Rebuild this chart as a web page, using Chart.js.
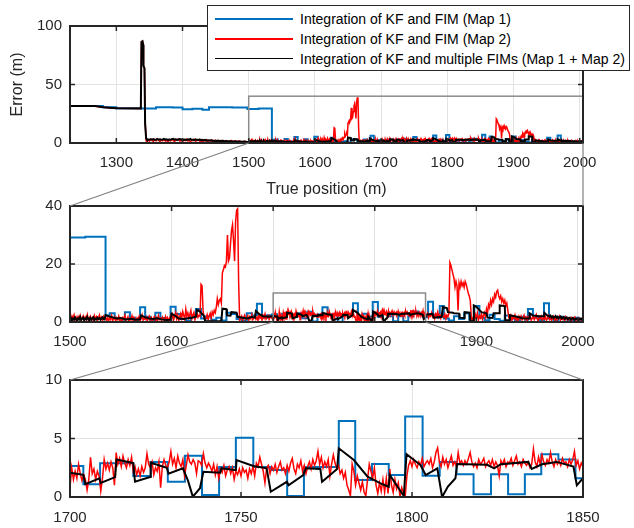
<!DOCTYPE html>
<html>
<head>
<meta charset="utf-8">
<script src="https://cdn.jsdelivr.net/npm/chart.js@4.4.1/dist/chart.umd.min.js"></script>
<style>
  body { margin: 0; background: #fff; }
  #wrap { position: relative; width: 634px; height: 528px; font-family: "Liberation Sans", Arial, sans-serif; }
  #wrap canvas { position: absolute; left: 0; }
  #legend { position: absolute; left: 207px; top: 5px; width: 421px; height: 64px; border: 1px solid #262626; background: #fff; }
  .row { position: absolute; left: 0; width: 100%; height: 0; font-size: 14px; color: #000; }
  .row .ln { position: absolute; left: 7px; width: 78px; top: -1px; border-top: 2px solid; }
  .row .tx { position: absolute; left: 92px; top: -9px; white-space: nowrap; line-height: 18px; }
</style>
</head>
<body>
<div id="wrap">
  <canvas id="c1" width="634" height="200" style="top:0px"></canvas>
  <canvas id="c2" width="634" height="160" style="top:200px"></canvas>
  <canvas id="c3" width="634" height="168" style="top:360px"></canvas>
  <canvas id="links" width="634" height="528" style="top:0px;pointer-events:none"></canvas>
  <div id="legend">
    <div class="row" style="top:13px"><span class="ln" style="border-color:#0072BD"></span><span class="tx">Integration of KF and FIM (Map 1)</span></div>
    <div class="row" style="top:33px"><span class="ln" style="border-color:#FF0000"></span><span class="tx">Integration of KF and FIM (Map 2)</span></div>
    <div class="row" style="top:53px"><span class="ln" style="border-color:#000000;border-top-width:1.5px"></span><span class="tx">Integration of KF and multiple FIMs (Map 1 + Map 2)</span></div>
  </div>
</div>
<script>
// axis limits / ticks of the three panels
var xLim1 = [1230, 2005], yLim1 = [0, 100];
var xTicks1 = [1300, 1400, 1500, 1600, 1700, 1800, 1900, 2000], yTicks1 = [0, 50, 100];
var xLim2 = [1500, 2005], yLim2 = [0, 40];
var xTicks2 = [1500, 1600, 1700, 1800, 1900, 2000], yTicks2 = [0, 20, 40];
var xLim3 = [1700, 1850], yLim3 = [0, 10];
var xTicks3 = [1700, 1750, 1800, 1850], yTicks3 = [0, 5, 10];

// Map 1 (blue): step breakpoints [position, error] - value holds until next point
var blueSteps = [
  [1230,31.7],[1268,31.6],[1280,30.5],[1300,29.7],[1338,29.4],[1360,30.5],[1385,30.3],[1400,28.9],
  [1415,29.2],[1430,28.5],[1440,30.6],[1475,30.3],[1498,29.1],[1515,29.4],
  [1535,2.2],[1539,3.0],[1544,1.2],[1549,0.8],[1554,3.4],[1559,1.5],[1564,0.6],[1569,5.1],[1574,1.8],
  [1579,0.5],[1584,3.2],[1589,1.4],[1594,0.7],[1599,5.3],[1604,2.8],[1609,1.0],[1614,0.4],[1619,2.0],
  [1624,4.5],[1629,1.2],[1634,2.0],[1639,0.8],[1644,1.5],[1649,0.5],[1654,3.2],[1659,2.8],[1664,1.0],
  [1669,0.6],[1674,3.0],[1679,2.2],[1684,6.3],[1689,1.5],[1694,2.3],[1699,2.65],
  [1703.9,1.08],[1708.8,2.88],[1718.5,1.8],[1723.6,3.0],[1728.6,1.3],[1733.6,3.53],[1738.6,0.17],
  [1743.6,2.56],[1748.5,5.07],[1753.6,2.56],[1758.5,2.3],[1763.5,0.09],[1768.4,2.56],[1778.6,6.5],
  [1783.4,1.45],[1788.3,2.82],[1793.2,1.88],[1798,6.87],[1803.1,1.82],[1808.1,3.0],[1813,1.94],
  [1818,0.23],[1823.1,1.94],[1828.1,0.23],[1833,1.94],[1837.8,3.65],[1842.8,3.2],[1847.8,1.6],
  [1852.5,7.0],[1857.4,2.5],[1862,1.5],[1864,5.5],[1868,1.2],[1873,0.5],[1878,2.0],[1883,1.0],
  [1888,3.0],[1893,0.8],[1898,5.5],[1903,1.5],[1908,0.6],[1913,2.5],[1918,1.0],[1923,0.4],[1928,2.2],
  [1933,1.2],[1938,0.5],[1943,1.8],[1948,0.8],[1950.8,4.5],[1955.7,1.5],[1961,0.7],[1966.6,6.5],
  [1971.5,1.2],[1976,0.6],[1981,1.8],[1986,0.9],[1991,0.4],[1996,1.5],[2001,0.3],[2005,0.3]
];

// Map 2 (red)
var redHead = [[1230,31.5],[1268,31.5],[1280,30.5],[1300,29.7],[1337,29.4],[1338,86],[1339.5,87],
  [1340.5,84],[1341,66],[1342.5,64],[1343.5,20],[1345,2],[1346,0.5]];
var redA = [ // 1346..1498, every 2 m
  0.5,2.8,1.6,3.2,2.1,1.4,2.9,1.8,3.4,2.2, 1.2,2.6,1.9,3.1,1.5,2.4,0.9,2.7,1.8,3.3,
  2.0,1.3,2.8,2.2,3.5,1.6,2.5,1.1,2.9,2.0, 3.2,1.7,2.4,1.0,2.6,1.9,3.0,1.4,2.3,2.8,
  1.5,2.1,0.8,2.5,1.7,2.9,1.2,2.2,1.6,2.7, 1.0,1.9,2.4,1.3,2.0,0.7,1.8,2.3,1.1,1.6,
  2.1,0.9,1.7,1.3,2.2,0.8,1.5,1.9,0.6,1.4, 1.8,0.9,1.3,0.7,1.6,1.1,0.8];
var redB = [ // 1500..1699, every 1 m
  1.5,0.4,2.0,1.1,2.4,0.7,1.6,0.3,1.9,1.2, 2.3,0.8,1.4,2.1,0.5,1.7,1.0,2.5,0.6,1.3,
  2.0,0.9,1.5,0.4,2.2,1.1,1.8,0.6,1.4,2.4, 0.8,1.6,0.5,1.9,1.2,
  1.8,0.6,1.3,0.2,1.6,0.9,2.2,0.4,1.1,1.7, 0.3,1.4,0.8,2.0,0.5,1.2,0.1,1.5,0.9,2.3,
  0.6,1.0,1.8,0.3,1.3,0.7,2.1,0.4,1.6,1.0, 0.2,1.4,0.8,1.9,0.5,1.1,2.4,0.6,1.3,0.9,
  1.7,0.3,1.2,2.0,0.7,1.5,0.4,1.0,1.8,0.6, 1.4,0.2,2.2,0.9,1.3,0.5,1.7,1.1,0.4,1.9,
  0.8,1.5,0.3,1.2,2.1,
  1.4,2.6,0.7,1.9,3.2,1.1,2.4,0.6,1.8,2.9, 1.3,3.6,2.2,0.9,4.4,2.0,3.1,1.5,2.7,4.0,
  1.2,2.5,3.3,0.8,2.1,3.0,1.6,2.3,
  2,13,12.5,4,1.5,1.0,1.2,2.5,0.8,2.0, 3.0,1.5,3.5,2.5,4.0,3.2,5.0,8.0,6.0,7.5,
  8.0,6.5,17,18,19.5,19,21,30,21,22, 27,31.5,33.5,28,21,34.5,38.5,39,14,0.5,
  1.2,2.0,0.5,1.6,2.4,0.9,1.3,2.1,0.6,1.8, 1.1,2.6,0.8,1.5,2.2,1.0,1.7,0.4,2.5,1.3,
  1.9,0.7,2.3,1.4,2.8,1.0,1.6,2.2,0.9,2.0, 1.5,1.2];
var redC = [ // 1700..1850, every 0.5 m
  0.8,2.5,1.5,2.2,1.6,2.8,2.0,1.4,1.9,1.5, 0.6,1.5,3.4,2.0,2.4,1.5,2.2,1.8,0.5,1.6,
  3.2,2.4,2.9,2.3,3.0,2.5,1.0,3.8,2.8,3.3, 2.6,3.5,2.9,2.5,3.2,2.7,3.4,2.2,2.6,1.9,
  2.4,1.8,2.6,2.1,2.5,3.7,2.8,2.5,3.0,1.9, 2.5,2.2,3.0,0.8,2.6,3.2,2.7,2.5,3.0,3.9,
  2.8,3.3,2.5,3.5,2.9,2.6,3.2,1.8,2.7,3.6, 3.0,2.8,3.2,2.9,2.0,3.1,3.0,2.7,3.7,2.9,
  2.5,2.9,2.6,2.2,2.8,1.9,2.6,1.6,2.4,2.1, 2.7,1.8,2.3,2.6,2.0,2.5,1.5,2.2,1.9,2.4,
  1.8,2.5,2.1,2.3,1.6,2.4,2.0,2.6,1.8,2.9, 2.6,3.4,2.8,2.2,1.2,2.5,2.7,2.0,2.6,2.3,
  2.8,2.1,2.6,3.0,2.3,2.5,2.0,2.7,2.2,2.9, 3.3,2.4,2.0,2.8,2.5,3.1,2.2,2.7,2.0,2.6,
  3.0,2.4,3.2,2.7,3.1,3.9,2.8,3.4,2.5,3.0, 2.6,3.2,1.8,2.8,3.6,2.9,2.4,2.7,2.0,2.3,
  1.6,2.1,1.0,0.6,0.1,2.8,2.2,1.0,1.8,1.2, 0.6,1.3,0.4,0.1,1.5,2.8,2.2,1.6,2.5,1.0,
  0.3,1.2,0.5,1.5,0.4,1.6,0.3,2.4,1.0,0.4, 1.5,0.7,1.2,0.0,0.8,0.3,0.0,1.8,2.7,3.1,
  2.6,3.2,2.8,2.5,3.0,2.7,3.3,2.6,2.9,3.1, 2.8,3.3,2.5,3.0,3.8,4.2,3.0,2.6,3.4,2.8,
  3.2,2.5,3.0,3.5,2.7,3.0,2.6,3.8,2.9,3.1, 2.7,3.1,2.8,3.3,3.8,3.0,2.6,2.9,2.5,3.2,
  2.8,3.0,3.3,2.6,2.9,3.1,2.7,3.2,2.6,3.0, 2.7,1.8,3.1,2.8,3.2,2.6,3.0,2.9,3.3,2.7,
  3.1,3.5,2.8,3.0,2.6,3.2,2.9,2.7,3.0,2.5, 2.8,4.1,3.0,2.6,3.4,2.8,3.6,3.0,2.7,3.2,
  2.9,3.8,3.0,2.6,3.2,2.8,3.1,2.7,3.3,2.9, 3.0,2.6,3.2,2.8,3.2,3.9,2.7,3.1,2.4,2.9,
  2.6];
var redD = [ // 1851..2005, every 1 m
  2.2,3.0,1.5,2.6,2.0,3.2,1.8,2.5,1.2,2.8, 2.1,3.5,1.7,2.4,1.3,2.9,2.0,1.6,2.7,1.1,
  2.3,1.8,
  3.0,20.5,19.5,18,16.5,15,12,14,12.5,4, 13.5,12,14,12.5,13.5,12,14,13,11.5,10,
  9,7.5,2,0.5,1.5,0.8,2.5,1.2,3.0,0.6, 2.0,1.4,2.8,1.0,2.2,3.2,1.8,4.5,3.0,6.0,
  5.0,7.5,6.0,8.0,7.0,9.5,8.5,10.5,11,9, 8,9,7,8,6.5,7.5,5.5,6.5,4,1.5,
  1.0,2.2,0.6,1.7,1.2,2.4,0.8,1.5,0.4,1.9, 1.1,2.0,0.7,1.4,2.3,0.9,1.6,0.5,1.8,1.2,
  2.1,0.6,1.3,1.9,0.8,1.5,2.5,1.0,0.4,1.7, 1.2,2.0,0.7,1.4,1.0,1.8,0.5,1.3,2.2,0.9,
  1.6,0.6,1.1,1.9,0.8,1.4,0.3,1.7,1.2,2.0, 0.7,1.3,0.9,1.6,0.5,1.8,1.1,0.6,1.4,1.0,
  0.4,1.5,0.8,1.2,1.7,0.6,1.0,0.3,1.3,0.8, 1.1,0.5,0.9];

// Map 1 + Map 2 (black)
var blackHead = [[1230,31.7],[1268,31.6],[1280,30.5],[1300,29.7],[1337,29.4],[1338,86.5],[1339.5,87],
  [1340.5,84],[1341,66],[1342.5,64],[1343.5,16],[1345,4]];
var blackA = [ // 1346..1498, every 2 m
  3.2,3.0,2.8,3.1,2.9,3.3,2.7,3.0,3.4,2.9, 3.1,2.8,3.0,3.5,2.9,3.2,2.7,3.0,2.8,3.3,
  3.6,2.9,3.1,2.6,3.0,3.4,2.8,3.1,2.7,3.0, 2.5,3.2,2.8,3.5,2.6,2.9,2.4,3.1,2.7,2.5,
  3.0,2.3,2.7,2.2,2.6,2.0,2.4,2.1,2.3,1.9, 2.2,1.8,2.0,1.7,2.1,1.6,1.9,1.5,1.8,1.4,
  1.7,1.5,1.3,1.6,1.2,1.5,1.1,1.4,1.2,1.3, 1.0,1.3,0.9,1.2,1.0,1.1,0.9];
var blackB = [ // 1500..1534, every 1 m
  0.9,1.4,0.6,1.2,0.8,1.6,1.0,0.5,1.3,0.9, 1.7,0.7,1.1,1.5,0.6,1.2,0.9,1.8,1.0,0.6,
  1.4,0.8,1.2,1.6,0.7,1.1,0.9,1.5,1.0,1.3, 0.8,1.2,1.6,1.0,0.9];
var blackMid = [
  [1535,2.4],[1538,2.0],[1542,1.6],[1546,1.2],[1550,1.4],[1555,0.9],[1560,1.1],[1565,0.8],[1569,1.0],
  [1570,2.3],[1574,1.6],[1578,1.2],[1582,1.0],[1586,1.3],[1590,0.9],[1595,0.7],[1599,0.8],[1600,2.9],
  [1604,2.0],[1607,1.2],[1612,1.0],[1616,1.3],[1620,1.5],[1624,1.8],[1625,4.2],[1628,3.6],[1632,2.0],
  [1633,0.3],[1649,0.3],[1650,4.6],[1654,4.4],[1654.5,2.3],[1658,2.2],[1659,3.4],[1664,3.2],[1665,1.8],
  [1670,1.5],[1675,1.2],[1679,1.8],[1682,1.5],[1683,3.8],[1686,2.8],[1690,2.0],[1695,1.8],[1699,2.0],
  [1700,2.08],[1703.9,1.9],[1704.5,1.1],[1708.6,1.6],[1709,1.2],[1713.2,1.7],[1713.6,3.2],[1718.5,2.9],
  [1719,1.3],[1723.4,1.7],[1723.6,2.93],[1728.3,2.5],[1728.8,2.0],[1733,2.45],[1734.5,1.4],[1735.9,0.03],
  [1737,0.4],[1738,0.75],[1739,2.15],[1743.9,2.08],[1744.3,2.45],[1748.5,2.3],[1748.7,3.16],[1753.6,2.65],
  [1757.5,2.45],[1758.7,0.45],[1763.4,1.3],[1763.9,1.0],[1768.2,1.88],[1769,2.45],[1773.2,2.4],[1773.7,1.3],
  [1778.1,2.4],[1778.6,4.16],[1783,3.16],[1787,1.74],[1790.8,1.17],[1793.2,0.88],[1793.5,1.88],
  [1797.6,0.09],[1798.4,3.65],[1802.5,2.73],[1804,1.88],[1807.4,2.45],[1808.8,0.0],[1810.5,0.9],[1812.7,1.6],
  [1813.2,2.82],[1822,2.75],[1824,2.45],[1826,2.8],[1834,3.0],[1835,2.4],[1838,2.8],[1842.3,3.0],
  [1847.2,2.6],[1848.2,1.0],[1850,1.6],
  [1851,2.5],[1857,2.8],[1858,1.5],[1866,1.8],[1867,5.2],[1871,4.8],[1872,3.4],[1877,3.2],[1878,3.0],
  [1883,2.9],[1883.5,1.5],[1888,1.4],[1888.5,3.4],[1893.4,3.2],[1894,0.3],[1897,0.3],[1897.5,5.7],
  [1900,5.2],[1905,3.4],[1910,3.0],[1911,1.5],[1916,1.4],[1917,3.0],[1922.5,3.0],[1923,5.7],[1928,5.5],
  [1928.5,0.6],[1932.8,0.6],[1933,2.3],[1940,1.8],[1945,1.3],[1952,1.2],[1952.5,3.0],[1956,2.2],
  [1962,2.0],[1966.5,2.0],[1967,3.2],[1970,2.2]];
var blackF = [ // 1971..2005, every 1 m
  2.0,1.8,2.2,1.6,1.9,1.4,1.7,2.1,1.5,1.8, 1.3,1.6,1.9,1.2,1.5,1.7,1.1,1.4,1.6,1.0,
  1.3,1.5,0.9,1.2,1.4,1.0,0.8,1.2,1.1,0.7, 1.0,0.9,1.2,0.8,0.9];

function seg(start, step, ys) {
  return ys.map(function (y, i) { return {x: start + i * step, y: y}; });
}
function pairs(arr) {
  return arr.map(function (p) { return {x: p[0], y: p[1]}; });
}

var bluePts = pairs(blueSteps);
var redPts = pairs(redHead).concat(seg(1346, 2, redA), seg(1500, 1, redB), seg(1700, 0.5, redC), seg(1851, 1, redD));
var blackPts = pairs(blackHead).concat(seg(1346, 2, blackA), seg(1500, 1, blackB), pairs(blackMid), seg(1971, 1, blackF));

Chart.defaults.font.family = "'Liberation Sans', Arial, sans-serif";
Chart.defaults.color = '#262626';

// box with inward ticks + zoom rectangle
var framePlugin = {
  id: 'frame',
  afterDatasetsDraw: function (chart, args, opts) {
    var ctx = chart.ctx, a = chart.chartArea, xs = chart.scales.x, ys = chart.scales.y;
    ctx.save();
    if (opts.zoomBox) {
      var z = opts.zoomBox;
      var px0 = xs.getPixelForValue(z[0]), px1 = xs.getPixelForValue(z[1]);
      var py0 = ys.getPixelForValue(z[2]), py1 = ys.getPixelForValue(z[3]);
      ctx.strokeStyle = '#8c8c8c';
      ctx.lineWidth = 1.5;
      ctx.strokeRect(px0, py1, px1 - px0, py0 - py1);
    }
    ctx.strokeStyle = '#262626';
    ctx.lineWidth = 1.5;
    ctx.beginPath();
    xs.ticks.forEach(function (t) {
      var p = xs.getPixelForValue(t.value);
      ctx.moveTo(p, a.bottom); ctx.lineTo(p, a.bottom - 5);
      ctx.moveTo(p, a.top); ctx.lineTo(p, a.top + 5);
    });
    ys.ticks.forEach(function (t) {
      var p = ys.getPixelForValue(t.value);
      ctx.moveTo(a.left, p); ctx.lineTo(a.left + 5, p);
      ctx.moveTo(a.right, p); ctx.lineTo(a.right - 5, p);
    });
    ctx.stroke();
    ctx.lineWidth = 2;
    ctx.strokeRect(a.left, a.top, a.right - a.left, a.bottom - a.top);
    ctx.restore();
  }
};

function fixedTicks(list) {
  return function (s) { s.ticks = list.map(function (v) { return {value: v}; }); };
}

function makeChart(id, xLim, xTicks, yLim, yTicks, padTop, axisH, tickPad, xTitle, yTitle, zoomBox) {
  return new Chart(document.getElementById(id), {
    type: 'line',
    data: {
      datasets: [
        {label: 'Map 1', data: bluePts.slice(), borderColor: '#0072BD', borderWidth: 2, stepped: true, order: 2},
        {label: 'Map 2', data: redPts.slice(), borderColor: '#FF0000', borderWidth: 1.5, order: 1},
        {label: 'Map 1 + Map 2', data: blackPts.slice(), borderColor: '#000000', borderWidth: 2, order: 0}
      ]
    },
    options: {
      responsive: false,
      animation: false,
      devicePixelRatio: 1,
      elements: {point: {radius: 0}, line: {tension: 0}},
      layout: {padding: {left: 0, right: 51, top: padTop, bottom: 0}},
      plugins: {
        legend: {display: false},
        tooltip: {enabled: false},
        frame: {zoomBox: zoomBox}
      },
      scales: {
        x: {
          type: 'linear', min: xLim[0], max: xLim[1],
          afterBuildTicks: fixedTicks(xTicks),
          grid: {color: '#e3e3e3', drawTicks: false},
          border: {display: false},
          ticks: {maxRotation: 0, autoSkip: false,
            padding: tickPad, font: {size: 15}, callback: function (v) { return String(v); }},
          title: {display: !!xTitle, text: xTitle || '', font: {size: 16}, padding: {top: 0, bottom: 1}},
          afterFit: function (s) { s.height = axisH; s.paddingLeft = 0; s.paddingRight = 0; }
        },
        y: {
          type: 'linear', min: yLim[0], max: yLim[1],
          afterBuildTicks: fixedTicks(yTicks),
          grid: {color: '#e3e3e3', drawTicks: false},
          border: {display: false},
          ticks: {padding: 8, font: {size: 15}, callback: function (v) { return String(v); }},
          title: {display: !!yTitle, text: yTitle || '', font: {size: 16}, padding: {top: 8, bottom: 0}},
          afterFit: function (s) { s.width = 70; s.paddingTop = 0; s.paddingBottom = 0; }
        }
      }
    },
    plugins: [framePlugin]
  });
}

var ch1 = makeChart('c1', xLim1, xTicks1, yLim1, yTicks1, 26, 57, 11, 'True position (m)', 'Error (m)', [xLim2[0], xLim2[1], yLim2[0], yLim2[1]]);
var ch2 = makeChart('c2', xLim2, xTicks2, yLim2, yTicks2, 6, 38, 11, null, null, [xLim3[0], xLim3[1], yLim3[0], yLim3[1]]);
var ch3 = makeChart('c3', xLim3, xTicks3, yLim3, yTicks3, 20, 31, 12, null, null, null);

// connector lines between the zoom boxes and the next panel
var lc = document.getElementById('links').getContext('2d');
function pt(chart, offY, x, y) {
  return [chart.scales.x.getPixelForValue(x), offY + chart.scales.y.getPixelForValue(y)];
}
var links = [
  [pt(ch1, 0, xLim2[0], yLim2[0]), pt(ch2, 200, xLim2[0], yLim2[1])],
  [pt(ch1, 0, xLim2[1], yLim2[0]), pt(ch2, 200, xLim2[1], yLim2[1])],
  [pt(ch2, 200, xLim3[0], yLim3[0]), pt(ch3, 360, xLim3[0], yLim3[1])],
  [pt(ch2, 200, xLim3[1], yLim3[0]), pt(ch3, 360, xLim3[1], yLim3[1])]
];
lc.strokeStyle = '#808080';
lc.lineWidth = 1.2;
links.forEach(function (l) {
  lc.beginPath();
  lc.moveTo(l[0][0], l[0][1]);
  lc.lineTo(l[1][0], l[1][1]);
  lc.stroke();
});
</script>
</body>
</html>
